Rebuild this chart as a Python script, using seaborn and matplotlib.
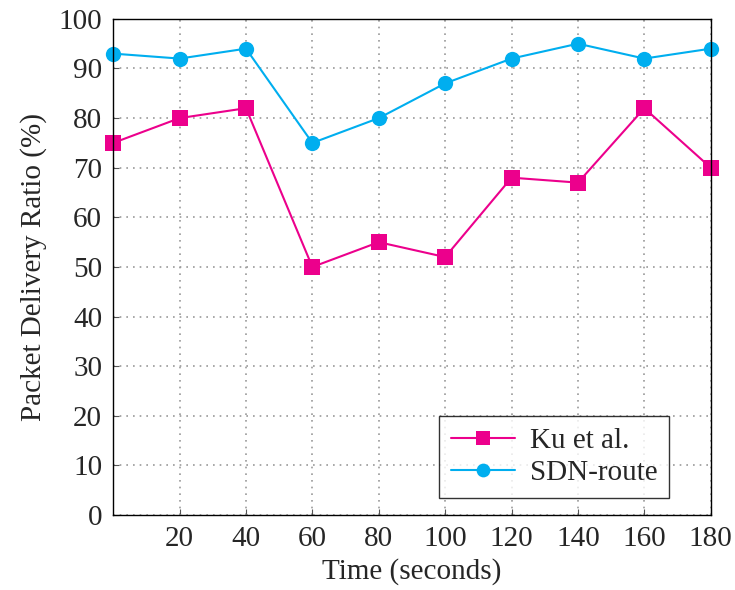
import pandas as pd
import numpy as np
import matplotlib.pyplot as plt
import seaborn as sns

# data
time_s = [0, 20, 40, 60, 80, 100, 120, 140, 160, 180]
ku_et_al = [75, 80, 82, 50, 55, 52, 68, 67, 82, 70]
sdn_route = [93, 92, 94, 75, 80, 87, 92, 95, 92, 94]
series_names = ['Ku et al.', 'SDN-route']
x_ticks = [20, 40, 60, 80, 100, 120, 140, 160, 180]
y_ticks = [0, 10, 20, 30, 40, 50, 60, 70, 80, 90, 100]

df = pd.DataFrame({
    'Time': time_s * 2,
    'PDR': ku_et_al + sdn_route,
    'Method': [series_names[0]] * len(time_s) + [series_names[1]] * len(time_s),
})

sns.set_style('ticks')
plt.rcParams['font.family'] = ['Liberation Serif', 'DejaVu Serif']

fig = plt.figure(figsize=(7.35, 5.9), dpi=100)
ax = fig.add_axes([0.154, 0.127, 0.813, 0.841])

sns.lineplot(data=df, x='Time', y='PDR', hue='Method', style='Method',
             palette={'Ku et al.': '#EC008C', 'SDN-route': '#00AEEF'},
             markers={'Ku et al.': 's', 'SDN-route': 'o'}, dashes=False,
             markersize=11, markeredgewidth=0, linewidth=1.5, ax=ax)
for ln in ax.lines:
    ln.set_clip_on(False)

ax.set_xlim(0, 180)
ax.set_ylim(0, 100)
ax.set_xticks(x_ticks)
ax.set_yticks(y_ticks)
ax.grid(True, linestyle=(0, (1, 3)), color='#999999', linewidth=1.2)
ax.tick_params(direction='in', length=4, labelsize=21, color='#555555', pad=8)
for s in ax.spines.values():
    s.set_linewidth(1.0)
    s.set_color('black')
ax.set_xlabel('Time (seconds)', fontsize=21, labelpad=4)
ax.set_ylabel('Packet Delivery Ratio (%)', fontsize=21, labelpad=8)

leg = ax.legend(loc='lower right', fontsize=21, frameon=True, fancybox=False,
                edgecolor='black', handlelength=2.2, borderaxespad=0.0,
                bbox_to_anchor=(0.93, 0.035), borderpad=0.4,
                labelspacing=0.2, handletextpad=0.5, markerscale=0.9)
leg.get_frame().set_linewidth(1.0)

plt.savefig('out.png', dpi=100)
